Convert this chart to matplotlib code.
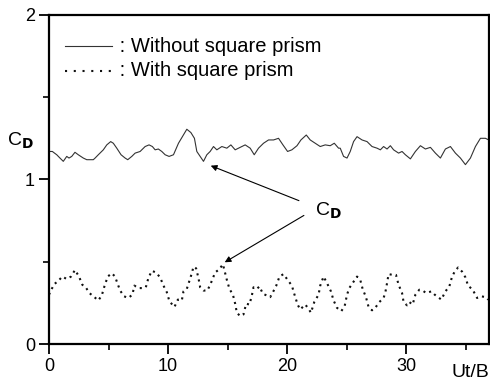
import matplotlib
matplotlib.use('Agg')
import matplotlib.pyplot as plt

plt.rcParams['font.family'] = ['Liberation Sans', 'DejaVu Sans']

# C_D without square prism (solid)
x_without = [0.08, 0.28, 0.65, 0.92, 1.20, 1.49, 1.68, 1.91, 2.18, 2.46, 2.88, 3.17, 3.45, 3.72,
             3.87, 4.14, 4.56, 4.85, 5.18, 5.40, 5.69, 6.05, 6.39, 6.61, 6.95, 7.23, 7.65, 8.07,
             8.40, 8.68, 8.91, 9.18, 9.47, 9.75, 10.08, 10.45, 10.87, 11.20, 11.57, 11.91, 12.21,
             12.41, 12.69, 12.97, 13.25, 13.53, 13.81, 14.09, 14.51, 14.93, 15.27, 15.63, 16.05,
             16.47, 16.89, 17.23, 17.59, 18.01, 18.43, 18.85, 19.27, 19.64, 20.03, 20.39, 20.82,
             21.15, 21.60, 21.93, 22.35, 22.77, 23.19, 23.61, 23.95, 24.31, 24.45, 24.73, 25.02,
             25.29, 25.57, 25.86, 26.28, 26.70, 27.12, 27.54, 27.82, 28.09, 28.38, 28.66, 28.93,
             29.35, 29.64, 29.92, 30.34, 30.76, 31.18, 31.60, 32.02, 32.44, 32.86, 33.28, 33.70,
             34.12, 34.54, 34.96, 35.38, 35.80, 36.22, 36.64, 36.92]
cd_without = [1.17, 1.17, 1.15, 1.13, 1.11, 1.14, 1.13, 1.14, 1.165, 1.15, 1.13, 1.12, 1.12, 1.12,
              1.13, 1.15, 1.18, 1.21, 1.23, 1.22, 1.19, 1.15, 1.13, 1.12, 1.14, 1.16, 1.17, 1.20,
              1.21, 1.20, 1.18, 1.185, 1.17, 1.15, 1.14, 1.15, 1.22, 1.26, 1.305, 1.285, 1.25,
              1.17, 1.14, 1.11, 1.15, 1.17, 1.20, 1.18, 1.20, 1.19, 1.21, 1.18, 1.195,
              1.21, 1.19, 1.15, 1.19, 1.22, 1.24, 1.24, 1.25, 1.21, 1.17, 1.18, 1.205,
              1.24, 1.27, 1.24, 1.22, 1.20, 1.21, 1.205, 1.22, 1.19, 1.19, 1.14, 1.13,
              1.17, 1.23, 1.26, 1.24, 1.23, 1.20, 1.19, 1.18, 1.20, 1.185, 1.205, 1.18,
              1.16, 1.17, 1.15, 1.125, 1.17, 1.205, 1.185, 1.195, 1.16, 1.13, 1.185, 1.20,
              1.16, 1.13, 1.09, 1.13, 1.20, 1.25, 1.25, 1.24]

# C_D with square prism (dotted)
x_with = [0.0, 0.23, 0.45, 0.73, 1.12, 1.49, 1.85, 2.18, 2.52, 2.80, 3.08, 3.39, 3.81, 4.14, 4.43,
          4.65, 4.93, 5.27, 5.55, 5.69, 5.97, 6.30, 6.66, 7.00, 7.17, 7.50, 7.84, 8.13, 8.34,
          8.63, 8.97, 9.33, 9.61, 9.89, 10.11, 10.53, 10.82, 11.15, 11.29, 11.57, 11.99, 12.13,
          12.35, 12.55, 12.69, 12.97, 13.30, 13.59, 13.95, 14.31, 14.60, 14.93, 15.15, 15.44,
          15.63, 15.77, 16.05, 16.33, 16.55, 16.83, 17.03, 17.17, 17.45, 17.67, 17.96, 18.29,
          18.57, 18.80, 19.08, 19.35, 19.69, 20.03, 20.39, 20.59, 20.87, 21.09, 21.51, 21.79,
          21.99, 22.27, 22.63, 22.77, 23.05, 23.34, 23.67, 23.89, 24.18, 24.54, 24.82, 25.02,
          25.21, 25.44, 25.86, 26.13, 26.33, 26.61, 26.83, 27.12, 27.39, 27.73, 28.09, 28.24,
          28.38, 28.51, 28.85, 29.13, 29.35, 29.64, 29.77, 30.06, 30.25, 30.53, 30.76, 31.09,
          31.37, 31.66, 32.10, 32.38, 32.66, 32.94, 33.28, 33.61, 33.84, 34.06, 34.34, 34.68,
          34.96, 35.18, 35.57, 35.94, 36.30, 36.64, 36.86]
cd_with = [0.30, 0.335, 0.365, 0.38, 0.41, 0.395, 0.41, 0.45, 0.41, 0.36, 0.345, 0.31, 0.285, 0.265, 0.295,
           0.35, 0.41, 0.43, 0.41, 0.38, 0.325, 0.29, 0.28, 0.30, 0.355, 0.34, 0.34, 0.345, 0.40,
           0.445, 0.435, 0.405, 0.355, 0.315, 0.26, 0.225, 0.27, 0.265, 0.32, 0.335, 0.43, 0.47,
           0.46, 0.40, 0.345, 0.325, 0.325, 0.37, 0.435, 0.455, 0.485, 0.39, 0.335, 0.30,
           0.245, 0.19, 0.17, 0.18, 0.245, 0.24, 0.295, 0.345, 0.335, 0.35, 0.305, 0.295,
           0.285, 0.315, 0.355, 0.41, 0.425, 0.39, 0.355, 0.305, 0.24, 0.21, 0.24, 0.215,
           0.19, 0.255, 0.30, 0.355, 0.41, 0.37, 0.32, 0.265, 0.22, 0.20, 0.23, 0.30,
           0.34, 0.365, 0.41, 0.39, 0.335, 0.285, 0.225, 0.205, 0.22, 0.255, 0.28, 0.315,
           0.37, 0.425, 0.42, 0.42, 0.36, 0.31, 0.255, 0.235, 0.255, 0.24, 0.30, 0.33,
           0.325, 0.31, 0.32, 0.30, 0.285, 0.27, 0.32, 0.35, 0.41, 0.44, 0.465, 0.44,
           0.405, 0.355, 0.33, 0.28, 0.29, 0.285, 0.27]

xticks = [0, 10, 20, 30]
yticks = [0, 1, 2]

fig = plt.figure(figsize=(4.9, 3.81), dpi=100)
ax = fig.add_axes([0.1, 0.097, 0.897, 0.864])

ax.plot(x_without, cd_without, color='#333333', lw=0.8)
ax.plot(x_with, cd_with, color='#111111', lw=1.5, linestyle=(0, (1, 2)))

ax.set_xlim(0, 36.9)
ax.set_ylim(0, 2)
ax.set_xticks(xticks)
ax.set_yticks(yticks)
ax.set_xticks([5, 15, 25, 35], minor=True)
ax.set_yticks([0.5, 1.5], minor=True)
ax.tick_params(which='major', direction='out', length=7, width=1.3, labelsize=13, pad=3)
ax.tick_params(which='minor', direction='out', length=4, width=1.2)
for s in ax.spines.values():
    s.set_linewidth(1.6)

# legend drawn by hand
ax.plot([0.036, 0.143], [0.905, 0.905], transform=ax.transAxes, color='#333333', lw=0.8)
ax.plot([0.036, 0.143], [0.83, 0.83], transform=ax.transAxes, color='#111111', lw=1.5,
        linestyle=(0, (1, 3.2)))
ax.text(0.148, 0.905, ' : Without square prism', transform=ax.transAxes, fontsize=14.5, va='center')
ax.text(0.148, 0.83, ' : With square prism', transform=ax.transAxes, fontsize=14.5, va='center')

# y label
fig.text(0.015, 0.63, r'C$_{\mathbf{D}}$', fontsize=14, va='center', ha='left')
# x label
fig.text(0.998, 0.0, 'Ut/B', fontsize=14, ha='right', va='bottom')

# annotation with two arrows
ax.text(22.3, 0.81, r'C$_{\mathbf{D}}$', fontsize=14, va='center', ha='left')
ax.annotate('', xy=(13.36, 1.09), xytext=(21.2, 0.865),
            arrowprops=dict(arrowstyle='-|>', color='black', lw=0.8, mutation_scale=9))
ax.annotate('', xy=(14.55, 0.488), xytext=(21.6, 0.79),
            arrowprops=dict(arrowstyle='-|>', color='black', lw=0.8, mutation_scale=9))

fig.savefig('out.png', dpi=100)
